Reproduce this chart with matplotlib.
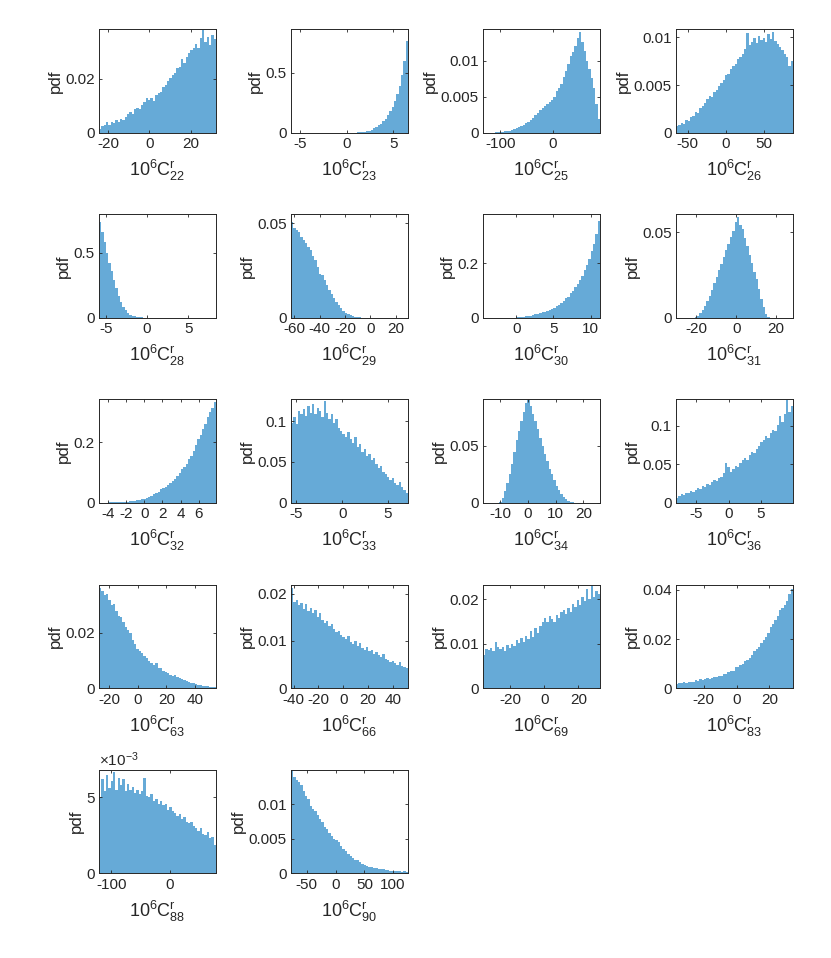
import numpy as np
import matplotlib
matplotlib.use("Agg")
import matplotlib.pyplot as plt

plt.rcParams['font.family'] = ['Liberation Sans', 'DejaVu Sans']
plt.rcParams['mathtext.fontset'] = 'custom'
plt.rcParams['mathtext.rm'] = 'Liberation Sans'
plt.rcParams['mathtext.it'] = 'Liberation Sans:italic'
plt.rcParams['axes.unicode_minus'] = False

# coefficient index of each panel
labels = ['22', '23', '25', '26', '28', '29', '30', '31', '32',
          '33', '34', '36', '63', '66', '69', '83', '88', '90']

# histogram range (first bin edge, last bin edge), in units of 1e-6
ranges = [(-24.3, 32.0), (-5.92, 6.56), (-132.9, 89.9), (-65.4, 88.6),
          (-5.81, 8.36), (-62.6, 29.7), (-4.46, 11.25), (-30.2, 28.5),
          (-5.0, 7.92), (-5.58, 7.17), (-16.2, 26.0), (-8.14, 9.95),
          (-27.0, 54.7), (-42.1, 52.0), (-36.0, 32.7), (-36.9, 34.4),
          (-121.1, 78.9), (-77.6, 125.9)]

# pdf values (50 bins per panel)
c22 = [0.0015, 0.0025, 0.0030, 0.0038, 0.0029, 0.0040, 0.0035, 0.0046, 0.0041, 0.0052,
       0.0048, 0.0060, 0.0069, 0.0075, 0.0071, 0.0086, 0.0092, 0.0088, 0.0104, 0.0115,
       0.0128, 0.0121, 0.0129, 0.0118, 0.0139, 0.0146, 0.0152, 0.0168, 0.0175, 0.0190,
       0.0202, 0.0215, 0.0220, 0.0238, 0.0245, 0.0274, 0.0258, 0.0282, 0.0295, 0.0306,
       0.0315, 0.0328, 0.0312, 0.0352, 0.0380, 0.0335, 0.0355, 0.0324, 0.0361, 0.0346]
c23 = [0, 0, 0, 0, 0, 0, 0, 0, 0, 0,
       0, 0, 0, 0, 0, 0, 0, 0, 0, 0,
       0, 0, 0, 0, 0, 0, 0, 0.001, 0.002, 0.003,
       0.005, 0.008, 0.012, 0.018, 0.026, 0.035, 0.047, 0.060, 0.075, 0.095,
       0.118, 0.145, 0.178, 0.215, 0.26, 0.32, 0.39, 0.48, 0.60, 0.76]
c25 = [0, 0, 0, 0, 0, 0.00003, 0.00005, 0.0001, 0.00012, 0.00018,
       0.0002, 0.0003, 0.0004, 0.0005, 0.0006, 0.0008, 0.0009, 0.0011, 0.0013, 0.0015,
       0.0018, 0.0021, 0.0024, 0.0027, 0.0031, 0.0034, 0.0037, 0.0040, 0.0043, 0.0046,
       0.0050, 0.0058, 0.0062, 0.0068, 0.0077, 0.0086, 0.0095, 0.0106, 0.0112, 0.0120,
       0.0131, 0.0140, 0.0126, 0.0113, 0.0100, 0.0088, 0.0076, 0.0062, 0.0040, 0.0019]
c26 = [0.0007, 0.0008, 0.0010, 0.0009, 0.0013, 0.0012, 0.0016, 0.0018, 0.0022, 0.0021,
       0.0026, 0.0028, 0.0031, 0.0035, 0.0038, 0.0037, 0.0043, 0.0045, 0.0049, 0.0052,
       0.0055, 0.0061, 0.0062, 0.0067, 0.0070, 0.0072, 0.0077, 0.0079, 0.0083, 0.0088,
       0.0104, 0.0092, 0.0095, 0.0099, 0.0094, 0.0101, 0.0097, 0.0099, 0.0095, 0.0103,
       0.0098, 0.0106, 0.0096, 0.0093, 0.0090, 0.0087, 0.0082, 0.0079, 0.0070, 0.0075]
c28 = [0.74, 0.66, 0.58, 0.50, 0.42, 0.36, 0.29, 0.23, 0.17, 0.12,
       0.085, 0.058, 0.038, 0.024, 0.016, 0.010, 0.006, 0.004, 0.002, 0.001,
       0.0005, 0.0003, 0.0002, 0, 0, 0, 0, 0, 0, 0,
       0, 0, 0, 0, 0, 0, 0, 0, 0, 0,
       0, 0, 0, 0, 0, 0, 0, 0, 0, 0]
c29 = [0.0505, 0.0478, 0.0465, 0.0452, 0.0430, 0.0412, 0.0398, 0.0375, 0.0360, 0.0325,
       0.0305, 0.0270, 0.0232, 0.0225, 0.0198, 0.0172, 0.0148, 0.0125, 0.0102, 0.0085,
       0.0068, 0.0050, 0.0038, 0.0027, 0.0018, 0.0012, 0.0008, 0.0005, 0.0003, 0.0002,
       0, 0, 0, 0, 0, 0, 0, 0, 0, 0,
       0, 0, 0, 0, 0, 0, 0, 0, 0, 0]
c30 = [0, 0, 0, 0, 0, 0, 0, 0, 0, 0,
       0, 0, 0, 0, 0.001, 0.002, 0.003, 0.004, 0.005, 0.006,
       0.008, 0.010, 0.012, 0.014, 0.017, 0.020, 0.022, 0.026, 0.029, 0.032,
       0.036, 0.043, 0.048, 0.055, 0.063, 0.072, 0.078, 0.090, 0.100, 0.112,
       0.125, 0.140, 0.152, 0.175, 0.195, 0.215, 0.245, 0.272, 0.310, 0.355]
c31 = [0, 0, 0, 0, 0, 0, 0, 0, 0.0003, 0.0012,
       0.0030, 0.0048, 0.0070, 0.0095, 0.0130, 0.0165, 0.0205, 0.0240, 0.0280, 0.0315,
       0.0355, 0.0395, 0.0430, 0.0475, 0.0510, 0.0560, 0.0588, 0.0545, 0.0520, 0.0470,
       0.0420, 0.0365, 0.0320, 0.0270, 0.0225, 0.0170, 0.0110, 0.0060, 0.0022, 0.0005,
       0, 0, 0, 0, 0, 0, 0, 0, 0, 0]
c32 = [0, 0, 0.0005, 0.0005, 0.0008, 0.001, 0.001, 0.0012, 0.0015, 0.002,
       0.0025, 0.003, 0.0035, 0.004, 0.005, 0.007, 0.008, 0.010, 0.012, 0.013,
       0.016, 0.019, 0.023, 0.028, 0.032, 0.037, 0.045, 0.050, 0.052, 0.058,
       0.065, 0.073, 0.080, 0.090, 0.100, 0.112, 0.120, 0.130, 0.145, 0.155,
       0.172, 0.190, 0.210, 0.225, 0.245, 0.262, 0.285, 0.300, 0.315, 0.335]
c33 = [0.098, 0.105, 0.096, 0.112, 0.108, 0.115, 0.106, 0.118, 0.110, 0.121,
       0.109, 0.116, 0.112, 0.105, 0.124, 0.110, 0.103, 0.108, 0.098, 0.102,
       0.092, 0.088, 0.084, 0.080, 0.086, 0.078, 0.073, 0.080, 0.068, 0.072,
       0.062, 0.066, 0.057, 0.060, 0.052, 0.055, 0.047, 0.043, 0.045, 0.038,
       0.035, 0.032, 0.028, 0.030, 0.024, 0.022, 0.025, 0.019, 0.016, 0.012]
c34 = [0, 0, 0, 0, 0, 0, 0, 0.0005, 0.004, 0.010,
       0.017, 0.025, 0.034, 0.045, 0.055, 0.063, 0.072, 0.080, 0.088, 0.0905,
       0.085, 0.078, 0.072, 0.065, 0.057, 0.050, 0.043, 0.037, 0.030, 0.025,
       0.020, 0.015, 0.011, 0.008, 0.005, 0.003, 0.0015, 0.0008, 0.0003, 0,
       0, 0, 0, 0, 0, 0, 0, 0, 0, 0]
c36 = [0.006, 0.009, 0.011, 0.010, 0.013, 0.012, 0.015, 0.014, 0.017, 0.019,
       0.018, 0.022, 0.021, 0.024, 0.023, 0.027, 0.029, 0.028, 0.032, 0.034,
       0.038, 0.052, 0.046, 0.040, 0.044, 0.048, 0.047, 0.052, 0.055, 0.058,
       0.056, 0.062, 0.066, 0.064, 0.070, 0.073, 0.079, 0.082, 0.086, 0.084,
       0.090, 0.095, 0.093, 0.101, 0.112, 0.105, 0.115, 0.134, 0.118, 0.125]
c63 = [0.0360, 0.0352, 0.0335, 0.0340, 0.0318, 0.0300, 0.0305, 0.0280, 0.0262, 0.0258,
       0.0240, 0.0222, 0.0210, 0.0198, 0.0175, 0.0160, 0.0142, 0.0135, 0.0128, 0.0115,
       0.0108, 0.0098, 0.0092, 0.0085, 0.0090, 0.0072, 0.0075, 0.0062, 0.0058, 0.0055,
       0.0050, 0.0046, 0.0048, 0.0040, 0.0037, 0.0033, 0.0030, 0.0026, 0.0024, 0.0020,
       0.0018, 0.0016, 0.0014, 0.0012, 0.0010, 0.0009, 0.0007, 0.0006, 0.0005, 0.0004]
c66 = [0.0212, 0.0182, 0.0186, 0.0175, 0.0180, 0.0168, 0.0178, 0.0163, 0.0170, 0.0158,
       0.0165, 0.0150, 0.0160, 0.0145, 0.0138, 0.0142, 0.0132, 0.0136, 0.0125, 0.0118,
       0.0122, 0.0112, 0.0108, 0.0104, 0.0110, 0.0098, 0.0094, 0.0100, 0.0090, 0.0095,
       0.0086, 0.0082, 0.0088, 0.0078, 0.0080, 0.0072, 0.0076, 0.0070, 0.0066, 0.0072,
       0.0062, 0.0060, 0.0056, 0.0058, 0.0054, 0.0050, 0.0055, 0.0048, 0.0046, 0.0043]
c69 = [0.0075, 0.0088, 0.0086, 0.0090, 0.0085, 0.0104, 0.0092, 0.0088, 0.0094, 0.0085,
       0.0098, 0.0090, 0.0100, 0.0096, 0.0108, 0.0102, 0.0112, 0.0105, 0.0118, 0.0110,
       0.0128, 0.0115, 0.0135, 0.0125, 0.0140, 0.0150, 0.0158, 0.0148, 0.0162, 0.0155,
       0.0148, 0.0165, 0.0158, 0.0172, 0.0175, 0.0168, 0.0180, 0.0172, 0.0190, 0.0182,
       0.0198, 0.0188, 0.0205, 0.0195, 0.0222, 0.0200, 0.0230, 0.0205, 0.0218, 0.0212]
c83 = [0.0018, 0.0022, 0.0020, 0.0024, 0.0021, 0.0026, 0.0028, 0.0025, 0.0034, 0.0030,
       0.0038, 0.0036, 0.0040, 0.0042, 0.0040, 0.0044, 0.0047, 0.0045, 0.0052, 0.0050,
       0.0060, 0.0058, 0.0068, 0.0072, 0.0070, 0.0085, 0.0088, 0.0095, 0.0100, 0.0110,
       0.0115, 0.0125, 0.0135, 0.0150, 0.0160, 0.0170, 0.0185, 0.0198, 0.0210, 0.0225,
       0.0250, 0.0262, 0.0278, 0.0295, 0.0320, 0.0325, 0.0340, 0.0355, 0.0385, 0.0405]
c88 = [0.0050, 0.0062, 0.0054, 0.0065, 0.0056, 0.0061, 0.0067, 0.0055, 0.0063, 0.0058,
       0.0062, 0.0054, 0.0059, 0.0055, 0.0057, 0.0053, 0.0055, 0.0052, 0.0054, 0.0063,
       0.0051, 0.0050, 0.0052, 0.0048, 0.0049, 0.0046, 0.0048, 0.0045, 0.0046, 0.0042,
       0.0044, 0.0041, 0.0040, 0.0038, 0.0039, 0.0036, 0.0037, 0.0034, 0.0033, 0.0034,
       0.0031, 0.0030, 0.0028, 0.0030, 0.0026, 0.0025, 0.0027, 0.0023, 0.0024, 0.0019]
c90 = [0.0148, 0.0140, 0.0136, 0.0132, 0.0128, 0.0120, 0.0113, 0.0108, 0.0098, 0.0094,
       0.0090, 0.0084, 0.0079, 0.0074, 0.0068, 0.0064, 0.0058, 0.0054, 0.0050, 0.0048,
       0.0045, 0.0040, 0.0036, 0.0032, 0.0028, 0.0025, 0.0022, 0.0020, 0.0019, 0.0016,
       0.0014, 0.0012, 0.0011, 0.0010, 0.0009, 0.0008, 0.0008, 0.0007, 0.0006, 0.0006,
       0.0005, 0.0005, 0.0004, 0.0004, 0.0003, 0.0004, 0.0003, 0.0002, 0.0003, 0.0002]

pdfs = [c22, c23, c25, c26, c28, c29, c30, c31, c32,
        c33, c34, c36, c63, c66, c69, c83, c88, c90]

ylims = [0.0383, 0.861, 0.01435, 0.01084, 0.796, 0.0548, 0.381, 0.0606, 0.343,
         0.1266, 0.0909, 0.1343, 0.0372, 0.0218, 0.0232, 0.042, 0.00681, 0.0150]

xticks = [[-20, 0, 20], [-5, 0, 5], [-100, 0], [-50, 0, 50],
          [-5, 0, 5], [-60, -40, -20, 0, 20], [0, 5, 10], [-20, 0, 20],
          [-4, -2, 0, 2, 4, 6], [-5, 0, 5], [-10, 0, 10, 20], [-5, 0, 5],
          [-20, 0, 20, 40], [-40, -20, 0, 20, 40], [-20, 0, 20], [-20, 0, 20],
          [-100, 0], [-50, 0, 50, 100]]
yticks = [[0, 0.02], [0, 0.5], [0, 0.005, 0.01], [0, 0.005, 0.01],
          [0, 0.5], [0, 0.05], [0, 0.2], [0, 0.05],
          [0, 0.2], [0, 0.05, 0.1], [0, 0.05], [0, 0.05, 0.1],
          [0, 0.02], [0, 0.01, 0.02], [0, 0.01, 0.02], [0, 0.02, 0.04],
          [0, 0.005], [0, 0.005, 0.01]]

W, H = 831, 958
fig = plt.figure(figsize=(W / 100, H / 100), dpi=100)

col_left = [99, 291, 483, 676]
row_top = [29.3, 214.3, 399.3, 585, 770]
aw, ah = 117, 103.4

face = (0.4, 0.668, 0.845)
dark = '#262626'

for k, lab in enumerate(labels):
    r, c = divmod(k, 4)
    ax = fig.add_axes([col_left[c] / W, 1 - (row_top[r] + ah) / H, aw / W, ah / H])
    lo, hi = ranges[k]
    vals = np.array(pdfs[k])
    edges = np.linspace(lo, hi, len(vals) + 1)
    ax.stairs(vals, edges, fill=True, color=face, linewidth=0)
    ax.set_xlim(lo, hi)
    ax.set_ylim(0, ylims[k])
    ax.set_xticks(xticks[k])
    ax.set_yticks(yticks[k])
    if lab == '88':
        ax.set_yticklabels(['0', '5'])
        ax.text(0.0, 1.01, r'$\times\mathrm{10^{-3}}$', transform=ax.transAxes,
                fontsize=11, color=dark, ha='left', va='bottom')
    else:
        ax.set_yticklabels(['%g' % v for v in yticks[k]])
    ax.set_xticklabels(['%g' % v for v in xticks[k]])
    ax.tick_params(direction='in', top=True, right=True, length=2.5, width=0.6,
                   labelsize=11, colors=dark, pad=3)
    for s in ax.spines.values():
        s.set_color(dark)
        s.set_linewidth(0.7)
    ax.set_xlabel(r'$\mathrm{10^6C^r_{%s}}$' % lab, fontsize=13, color=dark, labelpad=5)
    ax.set_ylabel('pdf', fontsize=12.2, color=dark, labelpad=2)

fig.savefig('out.png', dpi=100)
